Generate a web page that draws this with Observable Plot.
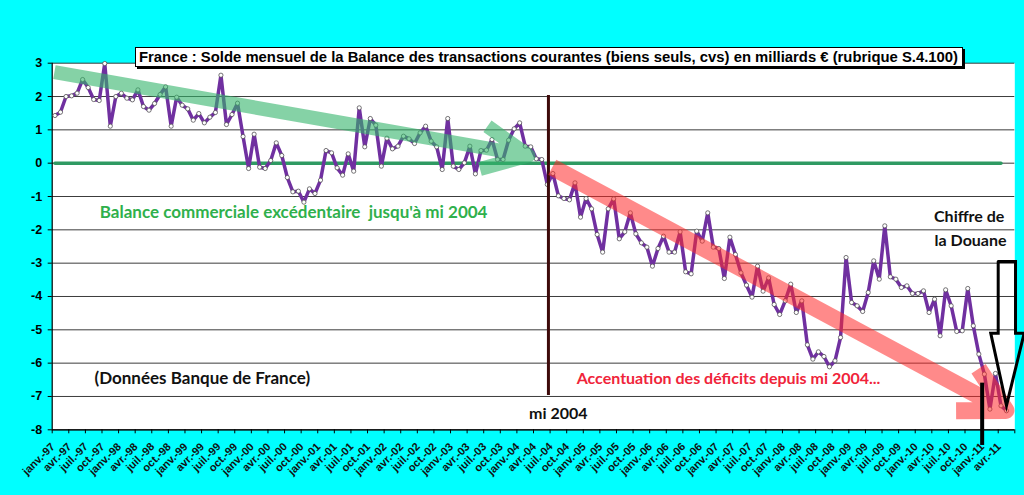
<!DOCTYPE html>
<html><head><meta charset="utf-8">
<script src="https://cdn.jsdelivr.net/npm/d3@7"></script>
<script src="https://cdn.jsdelivr.net/npm/@observablehq/plot@0.6"></script>
<style>
html,body{margin:0;padding:0;background:#00ffff;}
#wrap{position:relative;width:1024px;height:495px;overflow:hidden;background:#00ffff;}
#wrap svg{position:absolute;left:0;top:0;overflow:visible;}
#title{position:absolute;left:135px;top:47px;width:828px;height:20px;background:#fff;border:1.5px solid #000;box-shadow:2px 2px 0 #000;box-sizing:border-box;overflow:hidden;white-space:nowrap;}
#title span{display:inline-block;transform-origin:0 50%;margin-left:3px;font-family:"Liberation Sans Narrow","Liberation Sans",Arial,sans-serif;font-weight:bold;font-size:15px;line-height:17px;color:#000;}
</style></head>
<body>
<div id="wrap"><div id="title"><span id="titleText"></span></div></div>
<script>
// ---------- data ----------
const titleText = "France : Solde mensuel de la Balance des transactions courantes (biens seuls, cvs) en milliards € (rubrique S.4.100)";
const firstYear = 1997;
const nCategories = 174; // janv.-97 .. juin-11
const quarterNames = ["janv.", "avr.", "juil.", "oct."];
const yTicks = [-8, -7, -6, -5, -4, -3, -2, -1, 0, 1, 2, 3];

// monthly balance, billions €, from janv.-97
const solde = [
  1.43, 1.53, 2.00, 2.02, 2.10, 2.51, 2.27, 1.91, 1.88, 2.99, 1.11, 2.00,
  2.10, 1.95, 1.90, 2.20, 1.70, 1.59, 1.79, 2.06, 2.29, 1.11, 1.98, 1.74,
  1.63, 1.29, 1.49, 1.21, 1.38, 1.52, 2.64, 1.16, 1.46, 1.80, 0.80, -0.16,
  0.87, -0.12, -0.16, 0.08, 0.61, 0.23, -0.43, -0.86, -0.84, -1.17, -0.77, -0.91,
  -0.51, 0.38, 0.31, -0.14, -0.36, 0.28, -0.24, 1.66, 0.49, 1.34, 1.14, -0.09,
  0.75, 0.43, 0.51, 0.81, 0.73, 0.59, 0.91, 1.11, 0.66, 0.49, -0.19, 1.34,
  -0.09, -0.19, 0.01, 0.51, -0.32, 0.38, 0.39, 0.71, 0.11, 0.11, 0.69, 1.03,
  1.21, 0.51, 0.49, 0.13, 0.11, -0.64, -0.31, -0.98, -1.06, -1.10, -0.59, -1.62,
  -1.06, -1.37, -2.14, -2.67, -1.37, -1.07, -2.27, -2.06, -1.49, -2.12, -2.39, -2.52,
  -3.09, -2.56, -2.19, -2.67, -2.67, -2.06, -3.26, -3.32, -2.04, -2.34, -1.49, -2.52,
  -2.56, -3.46, -2.22, -2.74, -3.29, -3.66, -4.02, -3.09, -3.84, -3.44, -4.24, -4.54,
  -4.13, -3.63, -4.48, -4.13, -5.45, -5.88, -5.66, -5.80, -6.11, -5.93, -5.23, -2.83,
  -4.18, -4.28, -4.45, -3.88, -2.93, -3.48, -1.88, -3.41, -3.48, -3.73, -3.68, -3.91,
  -3.91, -3.83, -4.48, -4.08, -5.18, -3.80, -4.28, -5.05, -5.03, -3.76, -4.88, -5.73,
  -6.33, -7.38, -6.31, -7.28, -7.43
];

// zero reference series (first to last plotted month of the green line)
const zeroSeries = [{i: 0, v: 0}, {i: 171, v: 0}];

// annotation geometry, in chart units (month index, billions €)
const greenTrend = [{x1: 0.4, y1: 2.73, x2: 86.1, y2: 0.23}];
const redTrend = [{x1: 90.4, y1: -0.12, x2: 172.4, y2: -7.42}];
const mi2004Rule = [{x: 89.7, y1: 2.03, y2: -6.97}];
const douaneRule = [{x: 168.1, y1: -6.6, y2: -8.47}];
const douaneArrow = [
  [171.0, -2.95], [174.13, -2.95], [174.13, -5.1], [175.7, -5.1],
  [172.5, -7.27], [169.65, -5.1], [171.0, -5.1], [171.0, -2.95]
];
const notes = [
  {id: "n1", x: 8.6, y: -1.65, text: "Balance commerciale excédentaire  jusqu'à mi 2004"},
  {id: "n2", x: 7.65, y: -6.64, text: "(Données Banque de France)"},
  {id: "n3", x: 94.8, y: -6.64, text: "Accentuation des déficits depuis mi 2004..."},
  {id: "n4", x: 86.2, y: -7.67, text: "mi 2004"},
  {id: "n5", x: 159.4, y: -1.75, text: "Chiffre de"},
  {id: "n6", x: 159.5, y: -2.47, text: "la Douane"}
];

// ---------- derived ----------
const series = solde.map((v, i) => ({i, v}));
const xLabels = d3.range(0, 172, 3).map(i => ({
  i,
  label: quarterNames[(i % 12) / 3] + "-" + String((firstYear + Math.floor(i / 12)) % 100).padStart(2, "0")
}));
const xTickMarks = d3.range(0, nCategories + 1, 3);

// ---------- styles ----------
const noteStyle = {
  n1: {fill: "#2fb04c", size: 17, width: 418},
  n2: {fill: "#111111", size: 17, width: 229},
  n3: {fill: "#f0243a", size: 16, width: 345},
  n4: {fill: "#111111", size: 16, width: 64},
  n5: {fill: "#111111", size: 16, width: 79},
  n6: {fill: "#111111", size: 16, width: 79}
};
const cx = d => d.i + 0.5;
const noteFont = "Lato, 'Open Sans', sans-serif";

const noteMarks = notes.map(n => Plot.text([n], {
  x: "x", y: "y", text: "text", textAnchor: "start", lineAnchor: "bottom",
  fill: noteStyle[n.id].fill, fontSize: noteStyle[n.id].size, fontWeight: "bold",
  fontFamily: noteFont, ariaLabel: n.id
}));

const chart = Plot.plot({
  width: 1024, height: 495,
  marginLeft: 51.7, marginRight: 9.7, marginTop: 62.7, marginBottom: 65.7,
  x: {type: "linear", domain: [0, nCategories], axis: null},
  y: {type: "linear", domain: [-8, 3], axis: null},
  style: "background: transparent; font-family: 'Liberation Sans', Arial, sans-serif; font-weight: bold; color: black; overflow: visible;",
  marks: [
    Plot.frame({fill: "white", stroke: null}),
    Plot.ruleY(yTicks, {stroke: "#3c3c3c", strokeWidth: 1}),
    Plot.axisY({ticks: yTicks, tickSize: 4, tickPadding: 6, tickFormat: d => String(d), fontSize: 12.5, fontWeight: "bold"}),
    Plot.axisX({ticks: xTickMarks, tickSize: 4, tickFormat: () => ""}),
    Plot.ruleX([0], {stroke: "black", strokeWidth: 1.2}),
    Plot.ruleY([-8], {stroke: "black", strokeWidth: 1.2}),
    Plot.text(xLabels, {x: cx, y: -8, text: "label", rotate: -45, textAnchor: "end", dx: -2, dy: 15, fontSize: 11, fontWeight: "bold", fill: "#111"}),
    Plot.line(zeroSeries, {x: cx, y: "v", stroke: "#2f9a62", strokeWidth: 3.5}),
    Plot.line(series, {x: cx, y: "v", stroke: "#7030a0", strokeWidth: 3.5, strokeLinejoin: "round"}),
    Plot.dot(series, {x: cx, y: "v", r: 2.1, fill: "white", stroke: "#555", strokeWidth: 0.8}),
    Plot.ruleX(mi2004Rule, {x: "x", y1: "y1", y2: "y2", stroke: "#3d0a0a", strokeWidth: 3}),
    Plot.arrow(greenTrend, {x1: "x1", y1: "y1", x2: "x2", y2: "y2", stroke: "#33b46a", strokeOpacity: 0.6, strokeWidth: 14, headLength: 5.4, headAngle: 51, strokeLinecap: "butt", strokeLinejoin: "round"}),
    Plot.arrow(redTrend, {x1: "x1", y1: "y1", x2: "x2", y2: "y2", stroke: "#ff2a2a", strokeOpacity: 0.55, strokeWidth: 17, headLength: 4.4, headAngle: 57, strokeLinecap: "butt", strokeLinejoin: "round"}),
    Plot.ruleX(douaneRule, {x: "x", y1: "y1", y2: "y2", stroke: "black", strokeWidth: 4}),
    Plot.line(douaneArrow, {x: d => d[0], y: d => d[1], stroke: "black", strokeWidth: 3, strokeLinejoin: "miter", strokeMiterlimit: 10}),
    ...noteMarks
  ]
});

const wrap = document.getElementById("wrap");
wrap.insertBefore(chart, wrap.firstChild);

// fit annotation widths
for (const [id, st] of Object.entries(noteStyle)) {
  chart.querySelectorAll(`g[aria-label="${id}"] text`).forEach(t => {
    t.setAttribute("textLength", st.width);
    t.setAttribute("lengthAdjust", "spacingAndGlyphs");
  });
}
// title
const span = document.getElementById("titleText");
span.textContent = titleText;
const w = span.getBoundingClientRect().width;
span.style.transform = `scaleX(${819 / w})`;
</script>
</body></html>
